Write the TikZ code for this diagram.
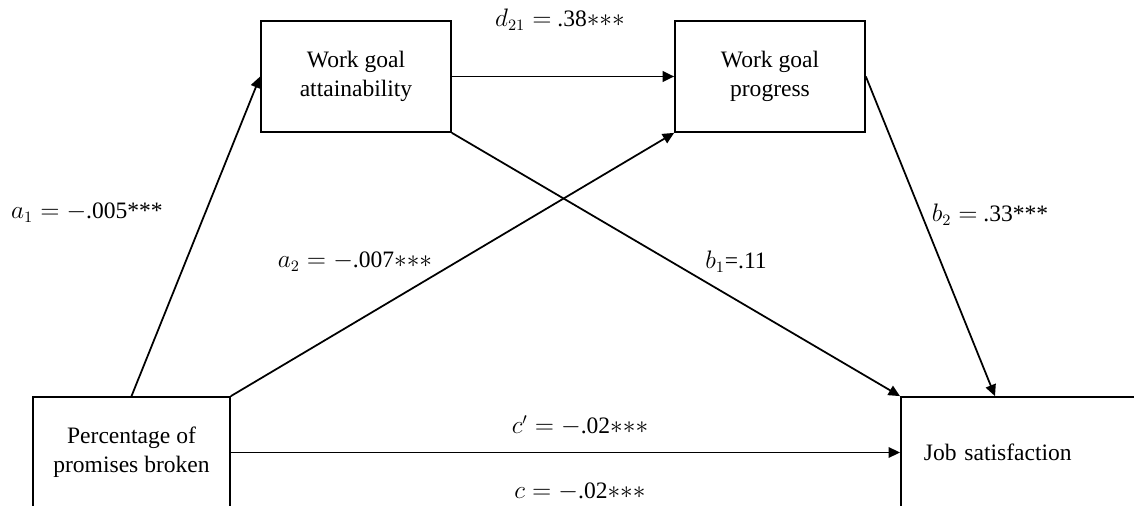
\documentclass[tikz,border=0pt]{standalone}
\usepackage{amsmath,amssymb}
\usepackage{fontspec}
\setmainfont{Liberation Serif}
\usepackage{tikz}
\usetikzlibrary{arrows.meta,positioning,calc}

\begin{document}
\begin{tikzpicture}[x=0.02cm, y=-0.02cm, >={Triangle[length=6.5pt,width=6pt]}, line width=1pt,
    font=\fontsize{13.4pt}{16.5pt}\selectfont]
    % Define style for the nodes
    \tikzstyle{var node} = [rectangle, draw, line width=1pt, minimum width=3.8cm, minimum height=2.22cm, align=center, inner sep=0pt]
    \tikzstyle{coef} = [inner sep=1pt]

    \clip (0,0) rectangle (1134,506);

    % Nodes
    \node[var node] (attain) at (356,76.5) {Work goal\\attainability};
    \node[var node] (progress) at (770,76.5) {Work goal\\progress};
    \node[var node, minimum width=3.94cm] (broken) at (131.5,452.5) {Percentage of\\promises broken};
    \node[var node, anchor=west, align=left, text width=4.4cm, inner xsep=0.46cm] (satisf) at (900,452.5) {Job satisfaction};
    \coordinate (satisf in) at ($(satisf.north west)+(95,0)$);

    % Arrows with labels
    \draw[->] (broken.north) -- (attain.west);
    \draw[->] (broken.north east) -- (progress.south west);
    \draw[->] (attain.east) -- (progress.west);
    \draw[->] (attain.south east) -- (satisf.north west);
    \draw[->] (progress.east) -- (satisf in);
    \draw[->] (broken.east) -- (satisf.west);

    \node[coef] (d21) at (560,20) {$d_{21} = $ .38${\ast}{\ast}{\ast}$};
    \node[coef] (a1) at (87,213) {$a_1 = -$.005***};
    \node[coef] (a2) at (355,262) {$a_2 = -$.007${\ast}{\ast}{\ast}$};
    \node[coef] (b1) at (736,262) {$b_1$=.11};
    \node[coef] (b2) at (990,215) {$b_2 = $ .33***};
    \node[coef] (cp) at (580,426) {$c' = -$.02${\ast}{\ast}{\ast}$};
    \node[coef] (c) at (580,492) {$c = -$.02${\ast}{\ast}{\ast}$};
\end{tikzpicture}
\end{document}
